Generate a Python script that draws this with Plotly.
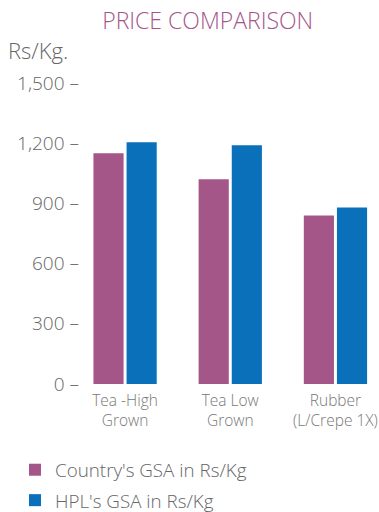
import plotly.graph_objects as go

categories = ["Tea -High<br>Grown", "Tea Low<br>Grown", "Rubber<br>(L/Crepe 1X)"]
country_gsa = [1150, 1020, 840]
hpl_gsa = [1205, 1190, 880]
series_names = ["Country's GSA in Rs/Kg", "HPL's GSA in Rs/Kg"]
y_ticks = [0, 300, 600, 900, 1200, 1500]
y_tick_labels = ["0 –", "300 –", "600 –", "900 –", "1,200 –", "1,500 –"]

FONT = "Open Sans, Roboto, Arial, sans-serif"
PURPLE = "#A45689"
BLUE = "#0A70BA"
GRAY = "#666666"

fig = go.Figure()
fig.add_trace(go.Bar(x=categories, y=country_gsa, name=series_names[0],
                     marker=dict(color=PURPLE, line=dict(width=0)), legendgroup="a"))
fig.add_trace(go.Bar(x=categories, y=hpl_gsa, name=series_names[1],
                     marker=dict(color=BLUE, line=dict(width=0)), legendgroup="b"))

fig.update_layout(
    width=379, height=512,
    margin=dict(l=80, r=4, t=83, b=128, autoexpand=False),
    paper_bgcolor="white", plot_bgcolor="white",
    barmode="group", bargap=0.37, bargroupgap=0.09,
    font=dict(family=FONT, color=GRAY, weight=300),
    title=dict(text="PRICE COMPARISON", x=0.548, xref="container", xanchor="center",
               y=0.959, yref="container", yanchor="middle",
               font=dict(size=23, color=PURPLE, family=FONT, weight=300)),
    xaxis=dict(range=[-0.4286, 2.376], showline=False, showgrid=False, zeroline=False,
               ticks="", tickfont=dict(size=15.5, color="#777777", weight=300), automargin=False,
               tickangle=0, ticklabelstandoff=5),
    yaxis=dict(range=[0, 1500], tickvals=y_ticks, ticktext=y_tick_labels,
               showline=False, showgrid=False, zeroline=False, ticks="",
               tickfont=dict(size=19, color=GRAY, weight=300), automargin=False),
    legend=dict(orientation="v", xref="container", x=15/379, xanchor="left",
                yref="container", y=1 - 451/512, yanchor="top",
                font=dict(size=18.8, color=GRAY, weight=300), tracegroupgap=3,
                itemwidth=30),
    showlegend=True,
    annotations=[dict(text="Rs/Kg.", xref="paper", yref="paper",
                      x=-74/295, y=(384 - 50) / 301, xanchor="left", yanchor="middle",
                      showarrow=False, font=dict(size=22, color=GRAY, family=FONT, weight=300))],
)

fig.write_html("out.html", config={"displayModeBar": False},
               post_script="document.body.style.margin='0';document.body.style.padding='0';document.body.style.overflow='hidden';")
